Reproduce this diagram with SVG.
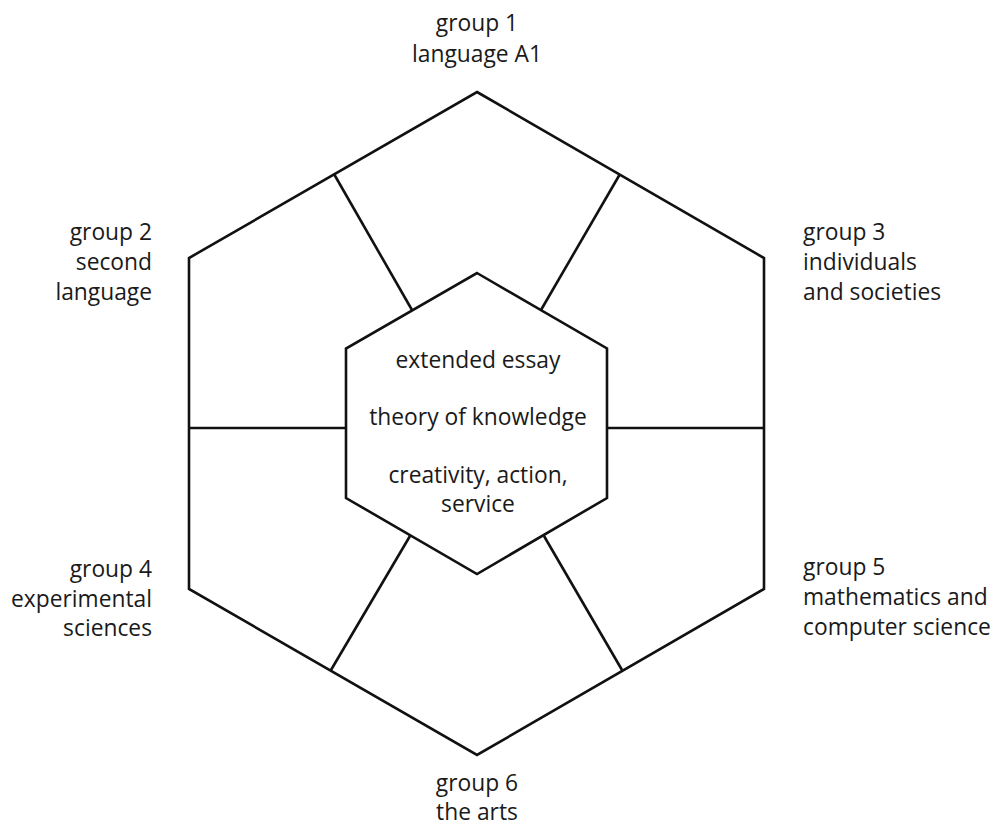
<svg xmlns="http://www.w3.org/2000/svg" width="994" height="828" viewBox="0 0 994 828">
<style>
.ln{fill:none;stroke:#111;stroke-width:2.6;stroke-linejoin:miter}
text{font-family:"Open Sans","Liberation Sans",sans-serif;font-size:22.8px;fill:#1a1a1a}
.m{text-anchor:middle}.r{text-anchor:end}.l{text-anchor:start}
</style>
<rect width="994" height="828" fill="#fff"/>
<g id="outer"><polygon class="ln" points="477,92 764,258 764,589 477,755 189,589 189,258"/></g>
<g id="core"><polygon class="ln" points="477,273 607,348.5 607,498 477,574 346,498 346,348.5"/>
<text class="m" x="478" y="368">extended essay</text>
<text class="m" x="478" y="425">theory of knowledge</text>
<text class="m" x="478" y="483">creativity, action,</text>
<text class="m" x="478" y="512">service</text></g>
<g id="connectors">
<line class="ln" x1="334" y1="174" x2="412" y2="310"/>
<line class="ln" x1="620" y1="174" x2="541" y2="310"/>
<line class="ln" x1="189" y1="428" x2="346" y2="428"/>
<line class="ln" x1="607" y1="428" x2="764" y2="428"/>
<line class="ln" x1="410" y1="536" x2="331" y2="670"/>
<line class="ln" x1="544" y1="536" x2="622" y2="670"/>
</g>
<g id="g1"><text class="m" x="477" y="31">group 1</text><text class="m" x="477" y="62">language A1</text></g>
<g id="g2"><text class="r" x="152" y="240">group 2</text><text class="r" x="152" y="270">second</text><text class="r" x="152" y="300">language</text></g>
<g id="g3"><text class="l" x="803" y="240">group 3</text><text class="l" x="803" y="270">individuals</text><text class="l" x="803" y="300">and societies</text></g>
<g id="g4"><text class="r" x="152" y="577">group 4</text><text class="r" x="152" y="607">experimental</text><text class="r" x="152" y="636">sciences</text></g>
<g id="g5"><text class="l" x="803" y="575">group 5</text><text class="l" x="803" y="605">mathematics and</text><text class="l" x="803" y="635">computer science</text></g>
<g id="g6"><text class="m" x="477" y="791">group 6</text><text class="m" x="477" y="820">the arts</text></g>
</svg>
